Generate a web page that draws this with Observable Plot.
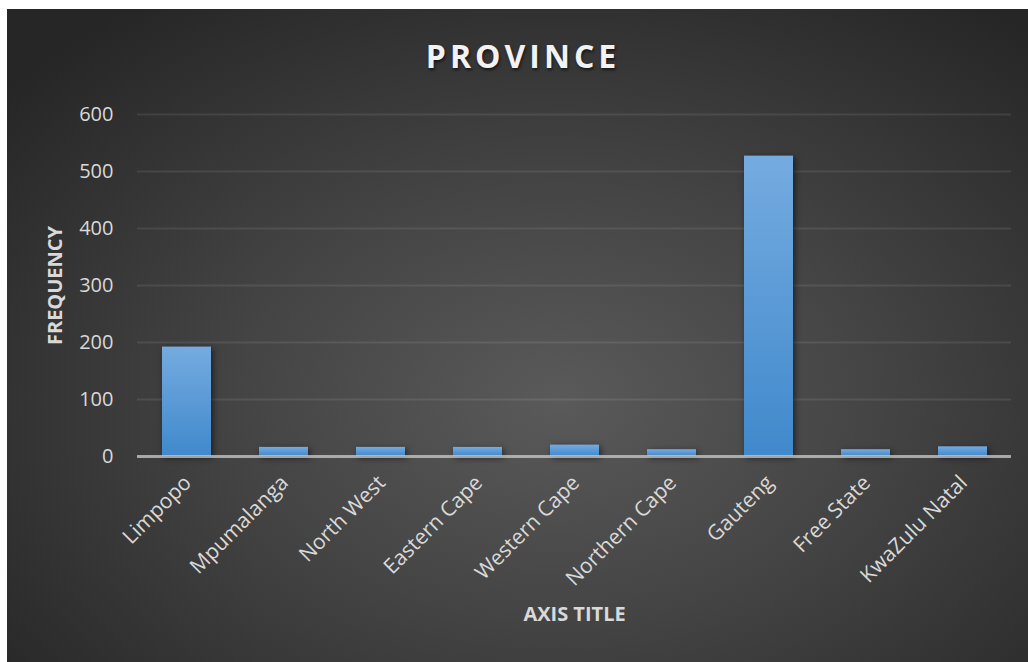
<!DOCTYPE html>
<html>
<head>
<meta charset="utf-8">
<script src="https://cdn.jsdelivr.net/npm/d3@7"></script>
<script src="https://cdn.jsdelivr.net/npm/@observablehq/plot@0.6"></script>
<style>
  html, body { margin: 0; padding: 0; background: #ffffff; }
  #chart {
    position: absolute; left: 7px; top: 9px; width: 1021px; height: 653px;
    background: radial-gradient(ellipse 70% 75% at 54% 60%, #5a5a5a 0%, #444 45%, #262626 100%);
    overflow: hidden;
    font-family: "Open Sans", sans-serif;
  }
  #title {
    position: absolute; left: 0; width: 1032px; top: 25px; text-align: center;
    font-size: 32px; font-weight: bold; letter-spacing: 4px; color: #f2f2f2;
    text-shadow: 1px 2px 3px rgba(0,0,0,0.6);
  }
  #plot { position: absolute; left: 0; top: 0; }
</style>
</head>
<body>
<div id="chart">
  <div id="plot"></div>
  <div id="title">PROVINCE</div>
</div>
<script>
const provinces = ["Limpopo", "Mpumalanga", "North West", "Eastern Cape", "Western Cape", "Northern Cape", "Gauteng", "Free State", "KwaZulu Natal"];
const frequency = [192, 16, 16, 16, 20, 12, 527, 12, 17];
const yTicks = [0, 100, 200, 300, 400, 500, 600];
const yTitle = "FREQUENCY";
const xTitle = "AXIS TITLE";

const data = provinces.map((p, i) => ({province: p, value: frequency[i]}));

const plot = Plot.plot({
  width: 1021,
  height: 653,
  marginLeft: 130,
  marginRight: 17,
  marginTop: 105,
  marginBottom: 206,
  style: {background: "transparent", color: "#d9d9d9", fontFamily: "'Open Sans', sans-serif", fontSize: "20px"},
  x: {domain: provinces, paddingInner: 0.5, paddingOuter: 0.25, axis: null},
  y: {domain: [0, 600], axis: null},
  marks: [
    () => {
      const ns = "http://www.w3.org/2000/svg";
      const defs = document.createElementNS(ns, "defs");
      defs.innerHTML = `<linearGradient id="barGrad" x1="0" y1="0" x2="0" y2="1">
        <stop offset="0" stop-color="#75abe0"/>
        <stop offset="1" stop-color="#4089cc"/>
      </linearGradient>`;
      return defs;
    },
    Plot.gridY(yTicks, {stroke: "#ffffff", strokeOpacity: 0.09, strokeWidth: 2}),
    Plot.barY(data, {x: "province", y: "value", fill: "url(#barGrad)"}),
    Plot.ruleY([0], {stroke: "#c8c8c8", strokeOpacity: 0.75, strokeWidth: 3}),
    Plot.axisY(yTicks, {tickSize: 0, tickPadding: 24, tickFormat: d => String(d), fill: "#d9d9d9", label: null}),
    Plot.text(provinces, {x: d => d, frameAnchor: "bottom", rotate: -45, textAnchor: "end", lineAnchor: "top", dx: -5, dy: 17, fontSize: 21, fill: "#d9d9d9"}),
    Plot.text([yTitle], {frameAnchor: "left", rotate: -90, textAnchor: "middle", dx: -82, fontWeight: "bold", fontSize: 20, fill: "#d9d9d9"}),
    Plot.text([xTitle], {frameAnchor: "bottom", textAnchor: "middle", dy: 164, fontWeight: "bold", fontSize: 20, fill: "#d9d9d9"})
  ]
});
const barG = plot.querySelector('g[aria-label="bar"]');
if (barG) barG.style.filter = "drop-shadow(2px 2px 3px rgba(0,0,0,0.55))";
document.getElementById("plot").appendChild(plot);
</script>
</body>
</html>
